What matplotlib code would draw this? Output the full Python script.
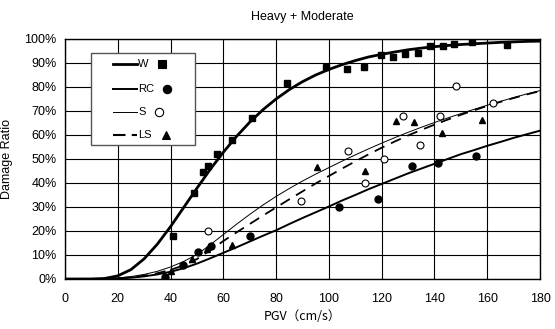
import numpy as np
import matplotlib
matplotlib.use('Agg')
import matplotlib.pyplot as plt
from matplotlib.patches import Rectangle
from matplotlib.ticker import FuncFormatter

# observed damage ratios (%) against PGV (cm/s)
w_pgv = [41, 49, 52.2, 54.3, 57.7, 63.2, 70.7, 84, 98.9, 106.7, 113.4, 119.9, 124.2,
         128.8, 133.9, 138.3, 143.3, 147.4, 154.1, 167.4]
w_ratio = [18, 36, 44.4, 47.1, 52, 57.8, 67.2, 81.5, 88.2, 87.4, 88.2, 93.3, 92.6,
           93.9, 94.3, 97.1, 97.2, 97.8, 98.9, 97.5]

rc_pgv = [38, 44.7, 50.5, 55.5, 70.2, 103.8, 118.6, 131.6, 141.2, 155.7]
rc_ratio = [1, 5.9, 11.2, 13.8, 18, 30.1, 33.5, 47.1, 48.5, 51.3]

s_pgv = [54.3, 89.3, 107.4, 113.8, 121, 127.9, 134.5, 142, 148.2, 162.3]
s_ratio = [19.9, 32.6, 53.5, 40.1, 49.8, 68, 55.8, 68, 80.4, 73.2]

ls_pgv = [40.3, 48.3, 53.7, 63.3, 95.4, 113.8, 125.4, 132.3, 143, 157.9]
ls_ratio = [3.5, 8.2, 12.7, 14, 46.5, 45, 66, 65.5, 61, 66.2]

# fitted curves, every 5 cm/s
curve_pgv = list(range(0, 181, 5))
w_curve = [0, 0, 0.01, 0.2, 1.3, 3.9, 8.4, 14.5, 21.8, 29.8, 37.8, 45.6, 52.8, 59.4,
           65.3, 70.5, 75, 78.9, 82.2, 85, 87.3, 89.3, 91, 92.5, 93.6, 94.6, 95.5,
           96.2, 96.8, 97.3, 97.7, 98.0, 98.3, 98.6, 98.8, 99.0, 99.1]
rc_curve = [0, 0, 0.01, 0.08, 0.25, 0.55, 1.1, 1.9, 3.0, 4.5, 6.4, 8.6, 10.9, 13.2,
            15.6, 18.0, 20.3, 22.9, 25.4, 27.8, 30.2, 32.7, 35, 37.4, 39.6, 41.8,
            44, 46, 48, 50, 52, 53.7, 55.5, 57.1, 58.8, 60.3, 61.8]
s_curve = [0, 0, 0, 0.1, 0.4, 1.0, 1.9, 3.2, 5.0, 7.3, 10.2, 14.2, 18.5, 22.8, 26.9,
           30.8, 34.4, 37.7, 40.8, 43.7, 46.4, 49.1, 51.7, 54.2, 56.6, 58.9, 61.1,
           63.2, 65.2, 67.1, 68.9, 70.7, 72.4, 74, 75.6, 77.1, 78.5]
ls_curve = [0, 0, 0, 0.05, 0.3, 0.7, 1.4, 2.4, 3.8, 5.7, 8.3, 11.9, 15.8, 19.4, 22.9,
            26.4, 29.8, 33.2, 36.5, 39.8, 42.9, 46.0, 49.0, 51.9, 54.7, 57.3, 59.8,
            62.1, 64.3, 66.4, 68.4, 70.3, 72.1, 73.8, 75.4, 76.9, 78.3]

plt.rcParams['font.family'] = ['Liberation Sans', 'DejaVu Sans']

fig = plt.figure(figsize=(5.55, 3.29), dpi=100)
ax = fig.add_axes([0.117, 0.152, 0.856, 0.7295])

ax.plot(curve_pgv, w_curve, color='black', lw=2.0)
ax.plot(curve_pgv, rc_curve, color='black', lw=1.4)
ax.plot(curve_pgv, s_curve, color='black', lw=0.7)
ax.plot(curve_pgv, ls_curve, color='black', lw=1.3, dashes=(6, 4))

ax.plot(w_pgv, w_ratio, 's', color='black', ms=4.8, zorder=5)
ax.plot(rc_pgv, rc_ratio, 'o', color='black', ms=5, zorder=5)
ax.plot(s_pgv, s_ratio, 'o', mfc='white', mec='black', mew=0.8, ms=5, zorder=5)
ax.plot(ls_pgv, ls_ratio, '^', color='black', ms=5, zorder=5)

ax.set_xlim(0, 180)
ax.set_ylim(0, 100)
ax.set_xticks(np.arange(0, 181, 20))
ax.set_yticks(np.arange(0, 101, 10))
ax.yaxis.set_major_formatter(FuncFormatter(lambda v, p: f'{v:.0f}%'))
ax.grid(True, color='black', lw=0.8)
ax.set_axisbelow(True)
for sp in ax.spines.values():
    sp.set_linewidth(1.0)
ax.tick_params(length=0, labelsize=9)
ax.tick_params(axis='x', pad=10)
ax.tick_params(axis='y', pad=6)

ax.set_title('Heavy + Moderate', fontsize=9, pad=14)
ax.set_ylabel('Damage Ratio', fontsize=9, labelpad=8)
ax.set_xlabel('PGV（cm/s）', fontsize=9, labelpad=4,
              family=['Noto Sans CJK JP', 'DejaVu Sans'])

# legend laid out as line - label - marker
box = Rectangle((0.0547, 0.558), 0.2193, 0.382, transform=ax.transAxes,
                facecolor='white', edgecolor='#555555', lw=1.0, zorder=6)
ax.add_patch(box)
rows = [('W', 0.895, 2.0, None, 's', 'black', 0.204),
        ('RC', 0.792, 1.4, None, 'o', 'black', 0.2154),
        ('S', 0.697, 0.7, None, 'o', 'white', 0.198),
        ('LS', 0.600, 1.5, (6, 3), '^', 'black', 0.2126)]
for name, yy, lw, dash, mk, fc, mx in rows:
    line, = ax.plot([0.101, 0.152], [yy, yy], color='black', lw=lw,
                    transform=ax.transAxes, zorder=7, clip_on=False)
    if dash:
        line.set_dashes(dash)
    ax.text(0.154, yy, name, transform=ax.transAxes, fontsize=8,
            va='center', ha='left', zorder=7)
    ax.plot([mx], [yy], mk, mfc=fc, mec='black', mew=0.8, ms=6,
            transform=ax.transAxes, zorder=7, clip_on=False)

fig.savefig('out.png', dpi=100)
